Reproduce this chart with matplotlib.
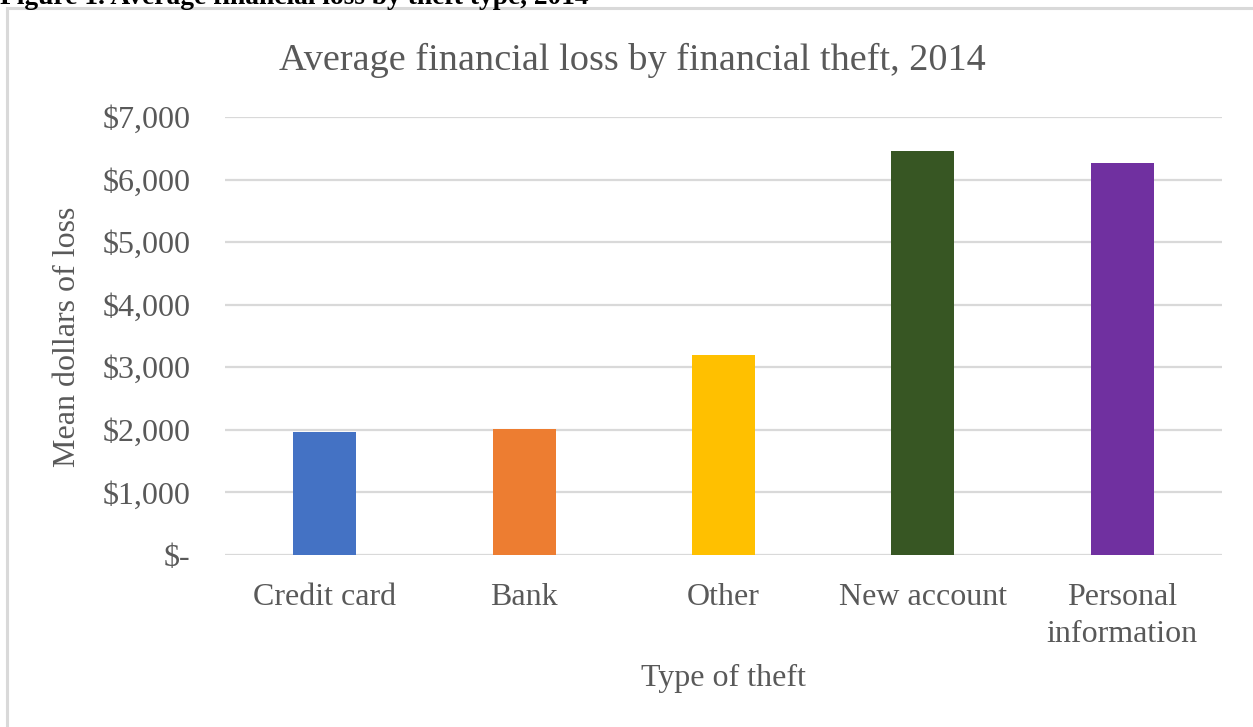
import matplotlib.pyplot as plt
from matplotlib.patches import Rectangle
from matplotlib.ticker import FuncFormatter

# Data
categories = ["Credit card", "Bank", "Other", "New account", "Personal\ninformation"]
mean_loss = [1960, 2010, 3190, 6460, 6260]
bar_colors = ["#4472C4", "#ED7D31", "#FFC000", "#375623", "#7030A0"]
y_ticks = [0, 1000, 2000, 3000, 4000, 5000, 6000, 7000]

text_gray = "#595959"
plt.rcParams['font.family'] = ['Liberation Serif', 'DejaVu Serif']

fig = plt.figure(figsize=(12.53, 7.27), dpi=100)

# chart frame (light gray border, top/left visible)
fig.patches.append(Rectangle((7 / 1253, -0.05), 1.2, 1 - 8 / 727 + 0.05,
                             transform=fig.transFigure, fill=False,
                             edgecolor="#d9d9d9", linewidth=2.2))

# caption partly cut off at the top of the image
fig.text(0.0, 1 - 4 / 727, "Figure 1. Average financial loss by theft type, 2014",
         ha='left', va='baseline', fontsize=19.8, fontweight='bold', color='black')

ax = fig.add_axes([225 / 1253, 1 - 555 / 727, 997 / 1253, 438 / 727])
x = range(len(categories))
ax.bar(x, mean_loss, width=0.316, color=bar_colors, zorder=3)

ax.set_xlim(-0.5, len(categories) - 0.5)
ax.set_ylim(0, 7000)
ax.set_yticks(y_ticks)
ax.yaxis.set_major_formatter(FuncFormatter(lambda v, p: "$-" if v == 0 else f"${v:,.0f}"))
ax.set_xticks(list(x))
ax.set_xticklabels(categories, linespacing=1.35)

ax.grid(axis='y', color='#d9d9d9', linewidth=1.6, zorder=0)
for s in ax.spines.values():
    s.set_visible(False)
ax.tick_params(axis='both', length=0, labelsize=23, colors=text_gray)
ax.tick_params(axis='y', pad=25)
ax.tick_params(axis='x', pad=20.5)

ax.set_xlabel("Type of theft", fontsize=23, color=text_gray, va='center')
ax.xaxis.set_label_coords(0.5, -0.281)
ax.set_ylabel("Mean dollars of loss", fontsize=23, color=text_gray, va='center')
ax.yaxis.set_label_coords(-0.1575, 0.498)

fig.text(632 / 1253, 1 - 60 / 727, "Average financial loss by financial theft, 2014",
         ha='center', va='center', fontsize=27.5, color=text_gray)

fig.savefig("out.png", dpi=100)
